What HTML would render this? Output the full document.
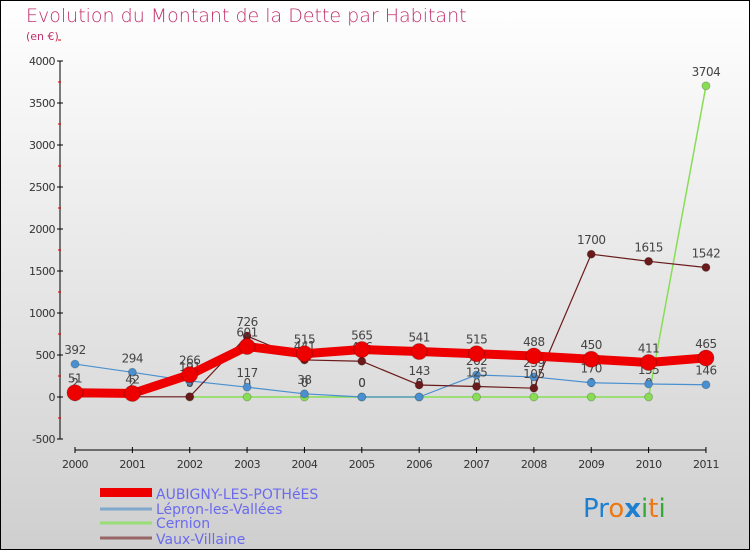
<!DOCTYPE html>
<html><head><meta charset="utf-8"><style>
html,body{margin:0;padding:0}
body{width:750px;height:550px;overflow:hidden;font-family:"DejaVu Sans","Liberation Sans",sans-serif}
</style></head><body>
<svg id="chart" width="750" height="550" viewBox="0 0 750 550" xmlns="http://www.w3.org/2000/svg">
<defs><linearGradient id="bg" x1="0" y1="0" x2="0" y2="1"><stop offset="0" stop-color="#ffffff"/><stop offset="1" stop-color="#cfcfcf"/></linearGradient></defs>
<rect x="0.5" y="0.5" width="749" height="549" fill="url(#bg)" stroke="#000" stroke-width="1"/>
<text x="26" y="22" font-size="19" fill="#c0306b" font-family="DejaVu Sans" font-weight="200">Evolution du Montant de la Dette par Habitant</text>
<text x="26" y="40" font-size="11" fill="#c0306b">(en €)</text>
<g id="axes"></g>
<g id="series"></g>
<g id="legend">
<rect x="100" y="488" width="52" height="9" fill="#ee0000"/>
<text x="156" y="499" font-size="14" fill="#6a6aee">AUBIGNY-LES-POTHéES</text>
<line x1="100" y1="509" x2="152" y2="509" stroke="#7fa8cc" stroke-width="3"/>
<text x="156" y="514" font-size="14" fill="#6a6aee">Lépron-les-Vallées</text>
<line x1="100" y1="523" x2="152" y2="523" stroke="#99dd77" stroke-width="3"/>
<text x="156" y="528" font-size="14" fill="#6a6aee">Cernion</text>
<line x1="100" y1="538" x2="152" y2="538" stroke="#996666" stroke-width="3"/>
<text x="156" y="544" font-size="14" fill="#6a6aee">Vaux-Villaine</text>
</g>
<g font-size="26" font-family="DejaVu Sans">
<text x="583" y="517"><tspan fill="#1e7fd0">Pr</tspan><tspan fill="#ee7711">o</tspan><tspan fill="#1e7fd0" font-weight="bold">x</tspan><tspan fill="#33aa33">i</tspan><tspan fill="#ee7711">t</tspan><tspan fill="#33aa33">i</tspan></text>
</g>
</svg>
<script>
const years = [2000,2001,2002,2003,2004,2005,2006,2007,2008,2009,2010,2011];
const aubigny = [51,42,266,601,515,565,541,515,488,450,411,465];
const lepron = [392,294,191,117,38,0,0,262,239,170,155,146];
const cernion = [null,null,0,0,0,0,0,0,0,0,0,3704];
const vaux = [2,2,3,726,441,426,143,125,105,1700,1615,1542];
const yTicks = [-500,0,500,1000,1500,2000,2500,3000,3500,4000];
const NS='http://www.w3.org/2000/svg';
function xs(i){return 75+i*57.36;}
function ys(v){return 397-v*0.084;}
function mk(tag,attrs,parent){const e=document.createElementNS(NS,tag);for(const k in attrs)e.setAttribute(k,attrs[k]);parent.appendChild(e);return e;}
const axes=document.getElementById('axes');
const ax=mk('line',{x1:60,y1:ys(4000),x2:60,y2:ys(-500),stroke:'#000','stroke-width':1},axes);


yTicks.forEach(t=>{
  mk('line',{x1:57,y1:ys(t),x2:63,y2:ys(t),stroke:'#000'},axes);
  mk('line',{x1:58,y1:ys(t+250),x2:61,y2:ys(t+250),stroke:'#dd0000'},axes);
  const tx=mk('text',{x:55,y:ys(t)+4,'text-anchor':'end','font-size':11,fill:'#333','letter-spacing':'-0.5'},axes);
  tx.textContent=t;
  
  
});
const xa=mk('line',{x1:xs(0),y1:450,x2:xs(11),y2:450,stroke:'#000'},axes);


years.forEach((y,i)=>{
  mk('line',{x1:xs(i),y1:447,x2:xs(i),y2:453,stroke:'#000'},axes);
  const tx=mk('text',{x:xs(i),y:468,'text-anchor':'middle','font-size':11,fill:'#333','letter-spacing':'-0.5'},axes);
  tx.textContent=y;
  
  
});
const sg=document.getElementById('series');
function series(name,data,color,lw,r,labelAbove){
  const g=mk('g',{},sg);
  
  
  let d='';let started=false;
  data.forEach((v,i)=>{if(v===null){started=false;return;}d+=(started?'L':'M')+xs(i)+' '+ys(v)+' ';started=true;});
  mk('path',{d:d,fill:'none',stroke:color,'stroke-width':lw,'stroke-linejoin':'round'},g);
  data.forEach((v,i)=>{
    if(v===null)return;
    const c=mk('circle',{cx:xs(i),cy:ys(v),r:r,fill:color,stroke:'rgba(0,0,0,0.2)'},g);
    
    
    const t=mk('text',{x:xs(i),y:labelAbove?ys(v)-10:ys(v)+5,'text-anchor':'middle','font-size':12,fill:'#444','letter-spacing':'-0.5'},g);
    t.textContent=v;
    
    
  });
}
series('cernion',cernion,'#88dd55',1.5,4,true);
series('lepron',lepron,'#4a90d0',1.2,4,true);
series('vaux',vaux,'#6a1a1a',1.2,4,true);
series('aubigny',aubigny,'#ee0000',9,8,true);
</script>
</body></html>
